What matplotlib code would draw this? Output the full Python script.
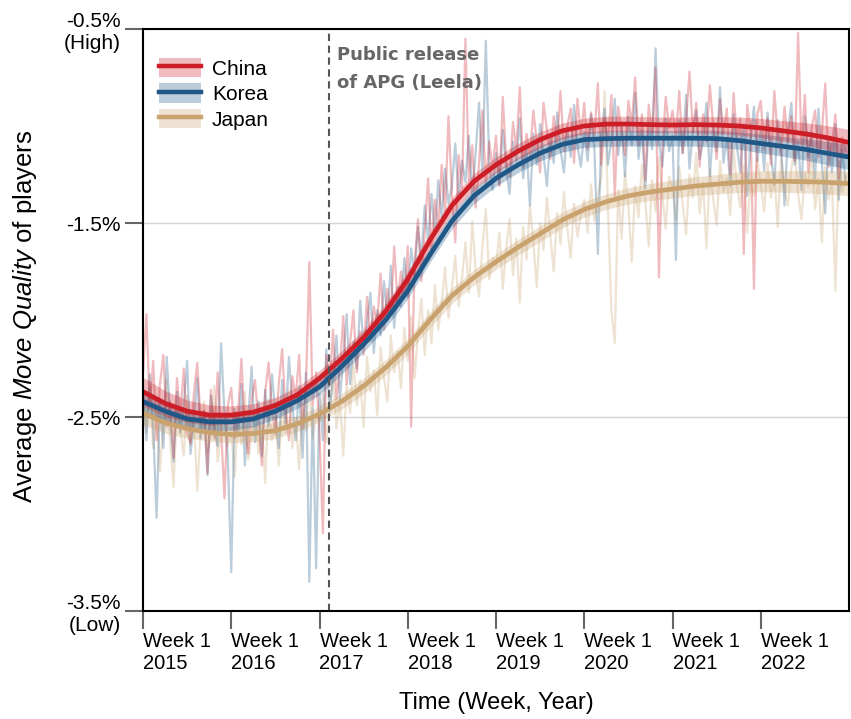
import numpy as np
import matplotlib
matplotlib.use("Agg")
import matplotlib.pyplot as plt
from matplotlib.patches import Patch
from matplotlib.lines import Line2D

plt.rcParams['font.family'] = ['Liberation Sans', 'DejaVu Sans']
plt.rcParams['mathtext.fontset'] = 'custom'
plt.rcParams['mathtext.rm'] = 'Liberation Sans'
plt.rcParams['mathtext.it'] = 'Liberation Sans:italic'

# weekly averages, sampled every second week, 2015 .. 2022
china_raw = [
    -2.28, -1.97, -2.45, -2.21, -2.62, -2.33, -2.18, -2.55, -2.42, -2.71, -2.30, -2.49, -2.25,
    -2.58, -2.64, -2.38, -2.22, -2.53, -2.47, -2.79, -2.36, -2.61, -2.27, -2.56, -2.92, -2.44,
    -2.35, -2.61, -2.48, -2.20, -2.57, -2.69, -2.41, -2.31, -2.52, -2.75, -2.37, -2.22, -2.46,
    -2.59, -2.33, -2.15, -2.47, -2.62, -2.29, -2.40, -2.18, -2.56, -2.35, -1.70, -2.44, -2.27,
    -2.58, -3.10, -2.18, -2.34, -2.05, -2.41, -2.26, -1.98, -2.33, -2.12, -1.95, -2.27, -2.06,
    -2.18, -1.88, -2.11, -1.93, -2.02, -1.76, -2.05, -1.84, -1.97, -1.62, -1.91, -1.75, -1.88,
    -1.62, -2.55, -1.71, -1.48, -1.80, -1.55, -1.27, -1.64, -1.38, -1.52, -1.20, -1.45, -0.95,
    -1.35, -1.60, -1.15, -1.32, -0.55, -1.28, -1.10, -1.42, -1.19, -0.92, -1.30, -1.08, -1.22,
    -1.05, -1.31, -0.85, -1.18, -1.26, -0.98, -1.12, -0.80, -1.21, -1.04, -1.15, -0.92, -1.08,
    -1.24, -0.88, -1.02, -1.17, -0.95, -1.09, -0.82, -1.13, -1.00, -0.91, -1.19, -0.86, -1.05,
    -0.88, -1.12, -0.93, -1.05, -0.78, -1.20, -0.96, -1.08, -0.84, -1.36, -0.90, -1.02, -1.15,
    -0.87, -0.99, -0.75, -1.10, -0.94, -1.28, -0.89, -1.04, -0.70, -1.78, -1.13, -0.85, -1.01,
    -0.92, -1.06, -0.82, -1.14, -0.97, -0.72, -1.03, -0.88, -1.21, -0.94, -1.08, -0.79, -1.00,
    -1.17, -0.86, -1.04, -0.91, -1.25, -0.83, -1.07, -0.96, -1.66, -0.89, -1.02, -1.84, -0.94,
    -0.87, -1.12, -0.96, -1.20, -0.82, -1.05, -1.15, -0.90, -1.08, -0.95, -1.18, -0.52, -1.10,
    -0.84, -1.24, -1.01, -0.92, -1.16, -1.04, -0.78, -1.21, -1.09, -0.94, -1.27, -1.06, -1.13,
]
korea_raw = [
    -2.35, -2.62, -2.28, -2.55, -3.02, -2.41, -2.66, -2.19, -2.50, -2.73, -2.37, -2.58, -2.44,
    -2.21, -2.69, -2.52, -2.30, -2.61, -2.47, -2.80, -2.39, -2.56, -2.65, -2.12, -2.49, -2.71,
    -3.30, -2.46, -2.60, -2.33, -2.75, -2.51, -2.24, -2.63, -2.42, -2.70, -2.36, -2.55, -2.28,
    -2.48, -2.66, -2.31, -2.53, -2.19, -2.44, -2.62, -2.34, -2.71, -2.27, -3.35, -2.45, -3.28,
    -2.38, -2.62, -2.15, -2.47, -2.29, -2.08, -2.41, -2.20, -1.97, -2.33, -2.11, -2.25, -1.90,
    -2.14, -2.02, -1.86, -2.17, -1.95, -2.08, -1.80, -1.99, -1.72, -2.04, -1.83, -1.93, -1.68,
    -1.88, -1.63, -1.77, -1.52, -1.69, -1.41, -1.60, -1.35, -1.56, -1.28, -1.47, -1.22, -1.40,
    -1.31, -1.09, -1.38, -1.18, -1.29, -1.05, -1.36, -1.14, -0.88, -1.25, -0.56, -1.19, -1.33,
    -1.14, -1.30, -1.02, -1.22, -1.35, -1.08, -1.18, -0.96, -1.27, -1.11, -1.41, -1.04, -1.20,
    -0.99, -1.15, -1.31, -1.06, -1.19, -0.93, -1.12, -1.24, -1.01, -1.16, -0.89, -1.10, -1.21,
    -1.03, -1.18, -0.94, -1.12, -1.66, -1.05, -0.91, -1.20, -1.07, -0.86, -1.15, -1.00, -1.26,
    -0.95, -1.10, -0.83, -1.17, -1.02, -1.32, -0.98, -1.12, -0.60, -1.08, -1.21, -0.96, -1.13,
    -1.05, -1.69, -0.97, -1.14, -0.84, -1.22, -1.03, -0.92, -1.17, -1.08, -0.88, -1.26, -1.00,
    -1.13, -0.80, -1.19, -1.06, -1.31, -0.94, -1.11, -1.24, -0.99, -1.36, -1.07, -0.90, -1.18,
    -1.02, -1.23, -0.93, -1.15, -1.30, -0.97, -1.11, -1.41, -1.04, -0.88, -1.20, -1.08, -1.33,
    -0.95, -1.16, -1.03, -1.27, -0.91, -1.19, -1.45, -1.06, -1.24, -0.99, -1.38, -1.12, -1.29,
]
japan_raw = [
    -2.40, -2.58, -2.35, -2.66, -2.47, -2.78, -2.52, -2.31, -2.62, -2.86, -2.45, -2.57, -2.70,
    -2.39, -2.63, -2.51, -2.88, -2.55, -2.42, -2.68, -2.60, -2.34, -2.73, -2.57, -2.49, -2.65,
    -2.55, -2.81, -2.48, -2.64, -2.37, -2.72, -2.59, -2.46, -2.69, -2.53, -2.84, -2.41, -2.62,
    -2.50, -2.75, -2.44, -2.58, -2.36, -2.66, -2.51, -2.77, -2.43, -2.57, -2.32, -2.61, -2.48,
    -2.52, -2.38, -2.63, -2.45, -2.29, -2.56, -2.41, -2.70, -2.33, -2.48, -2.22, -2.44, -2.31,
    -2.55, -2.19, -2.37, -2.26, -2.49, -2.14, -2.30, -2.42, -2.08, -2.27, -2.16, -2.35, -2.04,
    -2.21, -1.98, -2.30, -2.07, -1.89, -2.18, -1.95, -2.12, -1.82, -2.05, -1.91, -1.73, -1.99,
    -1.84, -1.67, -1.93, -1.78, -1.60, -1.86, -1.49, -1.75, -1.88, -1.62, -1.43, -1.79, -1.68,
    -1.72, -1.55, -1.84, -1.63, -1.48, -1.77, -1.58, -1.91, -1.52, -1.69, -1.41, -1.60, -1.83,
    -1.50, -1.64, -1.37, -1.56, -1.75, -1.45, -1.61, -1.34, -1.52, -1.68, -1.40, -1.57, -1.46,
    -1.38, -1.55, -1.30, -1.49, -1.36, -1.27, -0.82, -1.43, -1.95, -2.12, -1.33, -1.58, -1.24,
    -1.41, -1.70, -1.31, -1.47, -1.20, -1.39, -1.62, -1.28, -1.44, -1.16, -1.35, -1.53, -1.26,
    -1.32, -1.48, -1.21, -1.40, -1.56, -1.25, -1.37, -1.14, -1.45, -1.29, -1.63, -1.22, -1.38,
    -1.51, -1.18, -1.34, -1.27, -1.46, -1.12, -1.31, -1.42, -1.20, -1.55, -1.28, -1.36, -1.17,
    -1.30, -1.44, -1.19, -1.37, -1.25, -1.52, -1.16, -1.33, -1.41, -1.22, -1.10, -1.35, -1.48,
    -1.24, -1.31, -1.14, -1.43, -1.27, -1.60, -1.21, -1.38, -1.29, -1.85, -1.18, -1.34, -1.26,
]

# smoothed trend, one value per quarter 2015.0 .. 2023.0
china_fit = [-2.37, -2.43, -2.47, -2.49, -2.49, -2.475, -2.44, -2.385, -2.30, -2.20, -2.09,
             -1.955, -1.79, -1.59, -1.41, -1.285, -1.20, -1.13, -1.07, -1.025, -1.00, -0.99,
             -0.99, -0.993, -0.995, -0.993, -0.995, -1.00, -1.01, -1.025, -1.04, -1.06, -1.085]
korea_fit = [-2.42, -2.47, -2.51, -2.525, -2.525, -2.51, -2.47, -2.415, -2.345, -2.24, -2.125,
             -2.00, -1.85, -1.665, -1.49, -1.36, -1.27, -1.20, -1.14, -1.095, -1.07, -1.065,
             -1.063, -1.063, -1.063, -1.063, -1.065, -1.075, -1.09, -1.105, -1.12, -1.14, -1.16]
japan_fit = [-2.48, -2.53, -2.56, -2.58, -2.59, -2.585, -2.57, -2.535, -2.485, -2.42, -2.34,
             -2.245, -2.135, -2.00, -1.875, -1.78, -1.70, -1.625, -1.555, -1.485, -1.43, -1.39,
             -1.36, -1.34, -1.325, -1.31, -1.30, -1.29, -1.285, -1.285, -1.287, -1.29, -1.297]

# half width of the confidence band around each trend
china_ci = [0.075, 0.066, 0.058, 0.052, 0.047, 0.043, 0.041, 0.04, 0.04, 0.04, 0.04,
            0.04, 0.04, 0.04, 0.04, 0.04, 0.04, 0.04, 0.04, 0.04, 0.04, 0.04,
            0.04, 0.04, 0.04, 0.041, 0.043, 0.046, 0.049, 0.053, 0.057, 0.062, 0.068]
korea_ci = [0.065, 0.057, 0.05, 0.046, 0.043, 0.041, 0.04, 0.04, 0.04, 0.04, 0.04,
            0.04, 0.04, 0.04, 0.04, 0.04, 0.04, 0.04, 0.04, 0.04, 0.04, 0.04,
            0.04, 0.04, 0.04, 0.041, 0.043, 0.045, 0.048, 0.051, 0.055, 0.06, 0.065]
japan_ci = [0.06, 0.053, 0.048, 0.045, 0.043, 0.042, 0.041, 0.04, 0.04, 0.04, 0.04,
            0.04, 0.04, 0.04, 0.04, 0.04, 0.04, 0.04, 0.04, 0.04, 0.04, 0.04,
            0.042, 0.044, 0.046, 0.048, 0.05, 0.052, 0.054, 0.056, 0.058, 0.06, 0.063]

countries = ['China', 'Korea', 'Japan']
colors = ['#cd1e28', '#1f5787', '#c9a26e']
years = list(range(2015, 2023))
leela_release = 2017.11

raw = [china_raw, korea_raw, japan_raw]
fit = [china_fit, korea_fit, japan_fit]
ci = [china_ci, korea_ci, japan_ci]

t_raw = 2015 + np.arange(len(china_raw)) / 26
t_fit = 2015 + np.arange(len(china_fit)) / 4

fig, ax = plt.subplots(figsize=(8.51, 7.19), dpi=100)
fig.subplots_adjust(left=143/851, right=849/851, top=1-29/719, bottom=1-611/719)

# noisy weekly lines underneath
for i in [2, 1, 0]:
    ax.plot(t_raw, raw[i], color=colors[i], alpha=0.3, lw=1.6, zorder=2)

# trend bands and lines
for i in [2, 1, 0]:
    f = np.array(fit[i])
    w = np.array(ci[i])
    ax.fill_between(t_fit, f - w, f + w, color=colors[i], alpha=0.3, lw=0, zorder=3)
for i in [2, 1, 0]:
    ax.plot(t_fit, fit[i], color=colors[i], lw=3.4, solid_capstyle='butt', zorder=4)

ax.axvline(leela_release, color='#555555', lw=1.5, ls=(0, (3.5, 2.2)), zorder=5)
ax.text(2017.195, -0.59, 'Public release\nof APG (Leela)', family='DejaVu Sans',
        fontweight='bold', fontsize=13, color='#666666', ha='left', va='top',
        linespacing=1.65, zorder=6)

ax.set_xlim(2015, 2023)
ax.set_ylim(-3.5, -0.5)
ax.set_yticks([-3.5, -2.5, -1.5, -0.5])
ax.set_yticklabels(['-3.5%\n(Low)', '-2.5%', '-1.5%', '-0.5%\n(High)'], ha='right')
ax.set_xticks(years)
ax.set_xticklabels(['Week 1\n%d' % y for y in years], ha='left', multialignment='left')
ax.yaxis.grid(True, color='#d4d4d4', lw=1)
ax.set_axisbelow(True)
ax.tick_params(length=13, width=1.5, color='#666666', pad=3)
ax.tick_params(axis='y', labelsize=15)
ax.tick_params(axis='x', labelsize=14.5, pad=2)
for s in ax.spines.values():
    s.set_linewidth(1.5)
    s.set_color('black')
    s.set_zorder(7)

handles = [(Patch(facecolor=c, alpha=0.3, lw=0), Line2D([], [], color=c, lw=3.2))
           for c in colors]
ax.legend(handles, countries, loc='upper left', bbox_to_anchor=(0.0226, 0.95),
          frameon=False, fontsize=15, borderpad=0, borderaxespad=0,
          handlelength=2.0, handleheight=1.05, labelspacing=0.22, handletextpad=0.55)

fig.text(25/851, 1-316/719, r'Average $\mathit{Move\ Quality}$ of players',
         rotation=90, ha='center', va='center', fontsize=18.5)
fig.text(496/851, 1-703/719, 'Time (Week, Year)', ha='center', va='center', fontsize=17)

fig.savefig('out.png', dpi=100)
